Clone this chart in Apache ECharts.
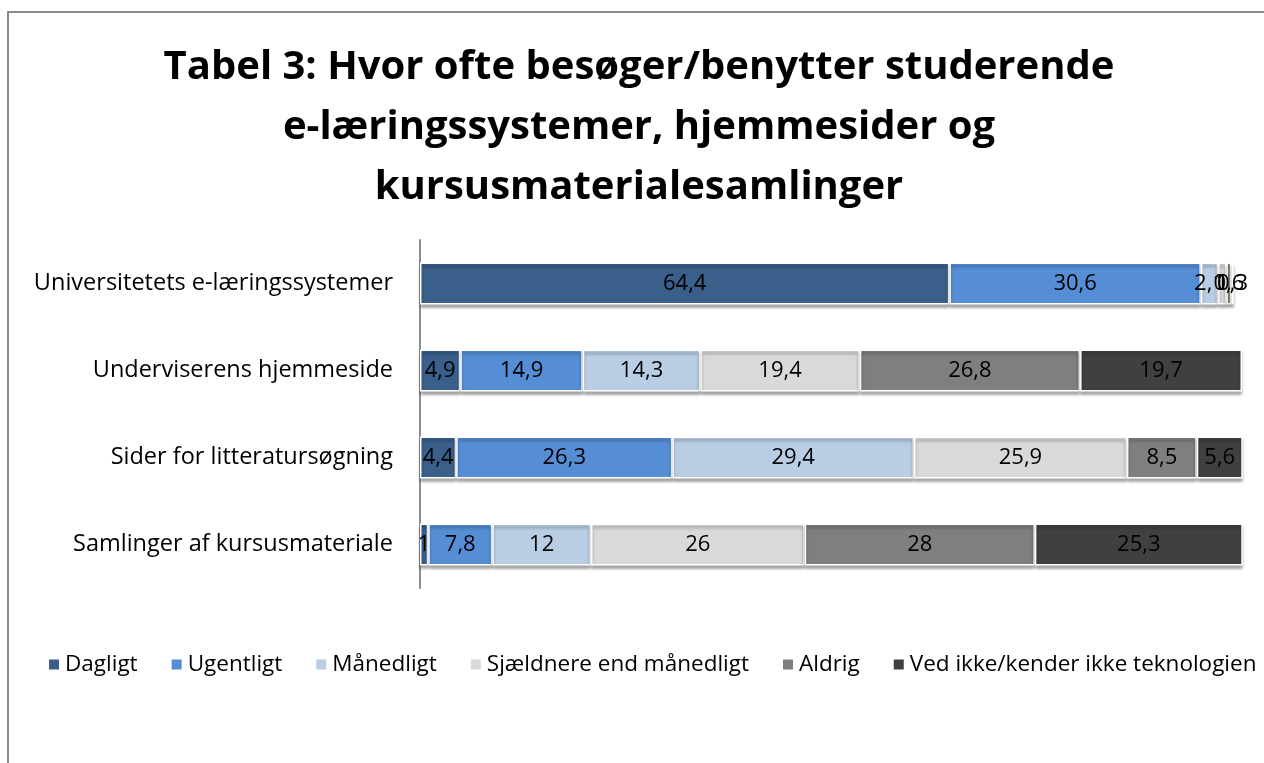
<!DOCTYPE html>
<html>
<head>
<meta charset="utf-8">
<script src="https://cdn.jsdelivr.net/npm/echarts@6/dist/echarts.min.js"></script>
<style>
	html, body { margin: 0; padding: 0; background: #fff; }
	#main { width: 1264px; height: 763px; }
</style>
</head>
<body>
<div id="main"></div>
<script>
// kategorier (y-akse, oppefra og ned)
var categories = ['Universitetets e-læringssystemer', 'Underviserens hjemmeside', 'Sider for litteratursøgning', 'Samlinger af kursusmateriale'];

// serier
var seriesNames = ['Dagligt', 'Ugentligt', 'Månedligt', 'Sjældnere end månedligt', 'Aldrig', 'Ved ikke/kender ikke teknologien'];
var dagligt = [64.4, 4.9, 4.4, 1];
var ugentligt = [30.6, 14.9, 26.3, 7.8];
var maanedligt = [2.1, 14.3, 29.4, 12];
var sjaeldnere = [1.0, 19.4, 25.9, 26];
var aldrig = [0.6, 26.8, 8.5, 28];
var vedIkke = [0.3, 19.7, 5.6, 25.3];

var colors = ['#3A5F8B', '#558ED5', '#B9CDE5', '#D9D9D9', '#7F7F7F', '#404040'];
var allData = [dagligt, ugentligt, maanedligt, sjaeldnere, aldrig, vedIkke];

var font = '"Open Sans", "Noto Sans", sans-serif';

var myChart = echarts.init(document.getElementById('main'));

var series = seriesNames.map(function(name, i) {
	return {
		name: name,
		type: 'bar',
		stack: 'total',
		barWidth: '48%',
		data: allData[i],
		itemStyle: {
			color: colors[i],
			borderColor: '#fff',
			borderWidth: 1.5,
			shadowColor: 'rgba(0,0,0,0.35)',
			shadowBlur: 3,
			shadowOffsetY: 3
		},
		label: {
			show: true,
			position: 'inside',
			color: '#000',
			fontFamily: font,
			fontSize: 22,
			formatter: function(p) {
				return String(p.value).replace('.', ',');
			}
		}
	};
});

var option = {
	animation: false,
	title: {
		text: 'Tabel 3: Hvor ofte besøger/benytter studerende\ne-læringssystemer, hjemmesider og\nkursusmaterialesamlinger',
		left: 634,
		top: 33,
		textAlign: 'center',
		textStyle: {
			fontFamily: font,
			fontWeight: 'bold',
			fontSize: 40,
			lineHeight: 60,
			color: '#000'
		}
	},
	graphic: [{
		type: 'rect',
		shape: { x: 8, y: 12, width: 1400, height: 900 },
		style: { fill: 'none', stroke: '#8c8c8c', lineWidth: 2 },
		silent: true
	}],
	legend: {
		bottom: 82,
		left: 42,
		itemWidth: 12,
		itemHeight: 12,
		itemGap: 32,
		icon: 'rect',
		textStyle: { fontFamily: font, fontSize: 22.5, color: '#000' },
		data: seriesNames
	},
	grid: {
		left: 420,
		right: 22,
		top: 240,
		bottom: 175
	},
	xAxis: {
		type: 'value',
		min: 0,
		max: 100,
		show: false
	},
	yAxis: {
		type: 'category',
		inverse: true,
		data: categories,
		axisLine: { show: true, lineStyle: { color: '#8c8c8c', width: 2 } },
		axisTick: { show: false },
		axisLabel: {
			margin: 27,
			fontFamily: font,
			fontSize: 23.5,
			color: '#000'
		}
	},
	series: series
};

myChart.setOption(option);
</script>
</body>
</html>
